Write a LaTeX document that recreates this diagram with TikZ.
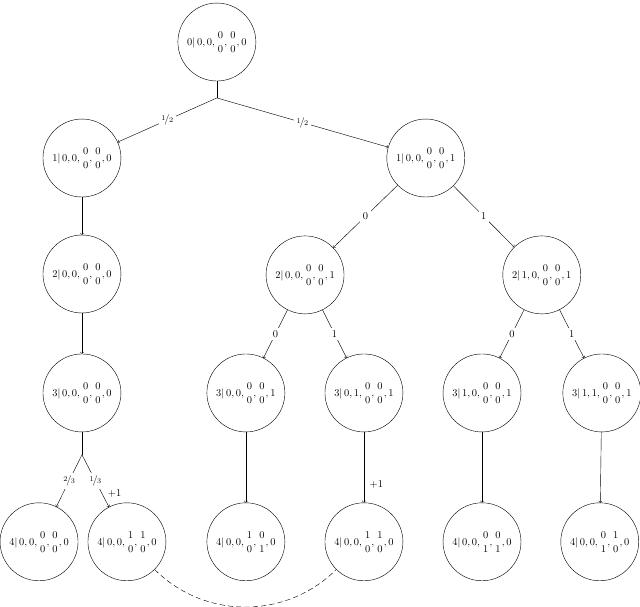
\documentclass[tikz,border=0pt]{standalone}
\usepackage{amsmath}
\usepackage{nicefrac}
\usepackage{tikz}
\newcommand{\stk}[2]{\genfrac{}{}{0pt}{0}{#1}{#2}}

\begin{document}
\begin{tikzpicture}[vertex/.style={draw, circle, minimum size=2.635cm, inner sep=0pt}, lbl/.style={fill=white, inner sep=2.5pt}]
\useasboundingbox (0,0) rectangle (21.63,-20.51);
\node[vertex] (L0N0) at (7.33,-1.42) {$0|\,0,0,\stk00,\stk00,0$};
\coordinate (L0F) at (7.33,-3.31);
\node[vertex] (L1N0) at (2.77,-5.34) {$1|\,0,0,\stk00,\stk00,0$};
\node[vertex] (L1N1) at (14.39,-5.34) {$1|\,0,0,\stk00,\stk00,1$};
\node[vertex] (L2N0) at (2.77,-9.26) {$2|\,0,0,\stk00,\stk00,0$};
\node[vertex] (L2N1) at (10.31,-9.29) {$2|\,0,0,\stk00,\stk00,1$};
\node[vertex] (L2N2) at (18.31,-9.29) {$2|\,1,0,\stk00,\stk00,1$};
\node[vertex] (L3N0) at (2.77,-13.28) {$3|\,0,0,\stk00,\stk00,0$};
\coordinate (L3F) at (2.77,-15.37);
\node[vertex] (L3N1) at (8.31,-13.28) {$3|\,0,0,\stk00,\stk00,1$};
\node[vertex] (L3N2) at (12.30,-13.28) {$3|\,0,1,\stk00,\stk00,1$};
\node[vertex] (L3N3) at (16.29,-13.28) {$3|\,1,0,\stk00,\stk00,1$};
\node[vertex] (L3N4) at (20.34,-13.28) {$3|\,1,1,\stk00,\stk00,1$};
\node[vertex] (L4N0) at (1.32,-18.31) {$4|\,0,0,\stk00,\stk00,0$};
\node[vertex] (L4N1) at (4.29,-18.31) {$4|\,0,0,\stk10,\stk10,0$};
\node[vertex] (L4N2) at (8.31,-18.31) {$4|\,0,0,\stk10,\stk01,0$};
\node[vertex] (L4N3) at (12.30,-18.31) {$4|\,0,0,\stk10,\stk10,0$};
\node[vertex] (L4N4) at (16.29,-18.31) {$4|\,0,0,\stk01,\stk01,0$};
\node[vertex] (L4N5) at (20.27,-18.31) {$4|\,0,0,\stk01,\stk10,0$};
\draw (L0N0) -- (L0F);
\draw[->] (L0F) -- node[lbl] {$\nicefrac{1}{2}$} (L1N0);
\draw[->] (L0F) -- node[lbl] {$\nicefrac{1}{2}$} (L1N1);
\draw[->] (L1N0) -- (L2N0);
\draw[->] (L1N1) -- node[lbl] {$0$} (L2N1);
\draw[->] (L1N1) -- node[lbl] {$1$} (L2N2);
\draw[->] (L2N0) -- (L3N0);
\draw[->] (L2N1) -- node[lbl] {$0$} (L3N1);
\draw[->] (L2N1) -- node[lbl] {$1$} (L3N2);
\draw[->] (L2N2) -- node[lbl] {$0$} (L3N3);
\draw[->] (L2N2) -- node[lbl] {$1$} (L3N4);
\draw (L3N0) -- (L3F);
\draw[->] (L3F) -- node[lbl] {$\nicefrac{2}{3}$} (L4N0);
\draw[->] (L3F) -- node[lbl] {$\nicefrac{1}{3}$} node[pos=0.75, right=2pt] {$+1$} (L4N1);
\draw[->] (L3N1) -- (L4N2);
\draw[->] (L3N2) -- node[pos=0.75, right=2pt] {$+1$} (L4N3);
\draw[->] (L3N3) -- (L4N4);
\draw[->] (L3N4) -- (L4N5);
\draw[dash pattern=on 5pt off 3pt] (L4N1.-45) to[out=-45, in=-135] (L4N3.-135);
\end{tikzpicture}
\end{document}
